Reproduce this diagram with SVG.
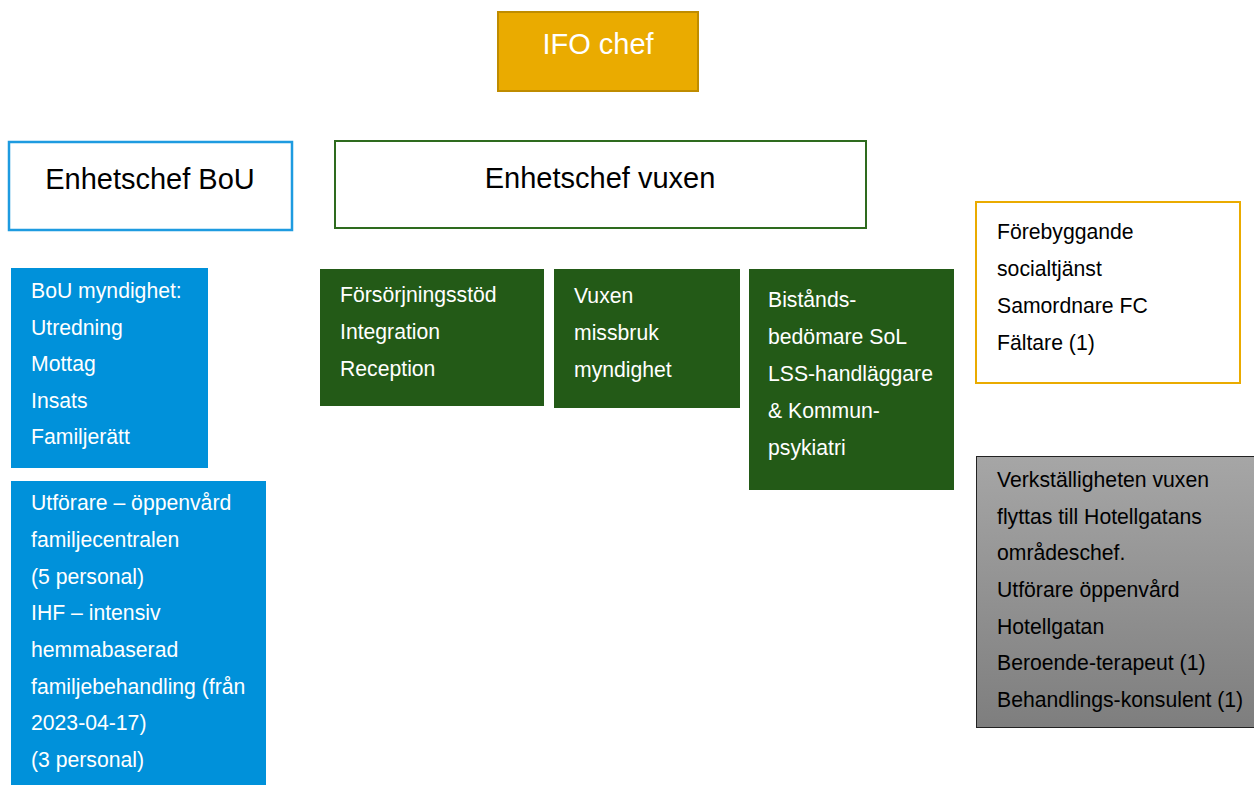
<svg xmlns="http://www.w3.org/2000/svg" width="1254" height="785" viewBox="0 0 1254 785">
<style>
text{font-family:"Liberation Sans",Arial,sans-serif;}
.h{font-size:29px;text-anchor:middle;}
.b{font-size:21.2px;}
.w{fill:#ffffff;}
.k{fill:#000000;}
.blue{fill:#0091DA;}
.green{fill:#235A17;}
</style>
<defs>
<linearGradient id="gray" x1="0" y1="0" x2="0" y2="1">
<stop offset="0" stop-color="#A6A6A6"/>
<stop offset="1" stop-color="#7E7E7E"/>
</linearGradient>
</defs>
<rect width="1254" height="785" fill="#ffffff"/>
<g id="connectors"></g>
<g id="ifo-chef">
<rect x="498" y="12" width="200" height="79" fill="#EAAB00" stroke="#BF8C00" stroke-width="2"/>
<text x="598" y="54" class="h w">IFO chef</text>
</g>
<g id="enhetschef-bou">
<rect x="9" y="142" width="283" height="88" fill="#ffffff" stroke="#1E9BE0" stroke-width="2.5"/>
<text x="150" y="189" class="h k">Enhetschef BoU</text>
</g>
<g id="enhetschef-vuxen">
<rect x="335" y="141" width="531" height="87" fill="#ffffff" stroke="#2E6B1E" stroke-width="2"/>
<text x="600" y="188" class="h k">Enhetschef vuxen</text>
</g>
<g id="bou-myndighet">
<rect x="11" y="268" width="197" height="200" class="blue"/>
<text class="b w" x="31" y="298">BoU myndighet:</text>
<text class="b w" x="31" y="335">Utredning</text>
<text class="b w" x="31" y="371">Mottag</text>
<text class="b w" x="31" y="408">Insats</text>
<text class="b w" x="31" y="444">Familjerätt</text>
</g>
<g id="utforare">
<rect x="11" y="481" width="255" height="304" class="blue"/>
<text class="b w" x="31" y="510">Utförare – öppenvård</text>
<text class="b w" x="31" y="547">familjecentralen</text>
<text class="b w" x="31" y="584">(5 personal)</text>
<text class="b w" x="31" y="620">IHF – intensiv</text>
<text class="b w" x="31" y="657">hemmabaserad</text>
<text class="b w" x="31" y="694">familjebehandling (från</text>
<text class="b w" x="31" y="730">2023-04-17)</text>
<text class="b w" x="31" y="767">(3 personal)</text>
</g>
<g id="forsorjningsstod">
<rect x="320" y="269" width="224" height="137" class="green"/>
<text class="b w" x="340" y="302">Försörjningsstöd</text>
<text class="b w" x="340" y="339">Integration</text>
<text class="b w" x="340" y="376">Reception</text>
</g>
<g id="vuxen-missbruk">
<rect x="554" y="269" width="186" height="139" class="green"/>
<text class="b w" x="574" y="303">Vuxen</text>
<text class="b w" x="574" y="340">missbruk</text>
<text class="b w" x="574" y="377">myndighet</text>
</g>
<g id="bistand">
<rect x="749" y="269" width="205" height="221" class="green"/>
<text class="b w" x="768" y="307">Bistånds-</text>
<text class="b w" x="768" y="344">bedömare SoL</text>
<text class="b w" x="768" y="381">LSS-handläggare</text>
<text class="b w" x="768" y="418">&amp; Kommun-</text>
<text class="b w" x="768" y="455">psykiatri</text>
</g>
<g id="forebyggande">
<rect x="976" y="202" width="264" height="181" fill="#ffffff" stroke="#EAAB00" stroke-width="2"/>
<text class="b k" x="997" y="239">Förebyggande</text>
<text class="b k" x="997" y="276">socialtjänst</text>
<text class="b k" x="997" y="313">Samordnare FC</text>
<text class="b k" x="997" y="350">Fältare (1)</text>
</g>
<g id="verkstallighet">
<rect x="976.5" y="456.5" width="280" height="271" fill="url(#gray)" stroke="#222222" stroke-width="1"/>
<text class="b k" x="997" y="487">Verkställigheten vuxen</text>
<text class="b k" x="997" y="524">flyttas till Hotellgatans</text>
<text class="b k" x="997" y="560">områdeschef.</text>
<text class="b k" x="997" y="597">Utförare öppenvård</text>
<text class="b k" x="997" y="634">Hotellgatan</text>
<text class="b k" x="997" y="670">Beroende-terapeut (1)</text>
<text class="b k" x="997" y="707">Behandlings-konsulent (1)</text>
</g>
</svg>
